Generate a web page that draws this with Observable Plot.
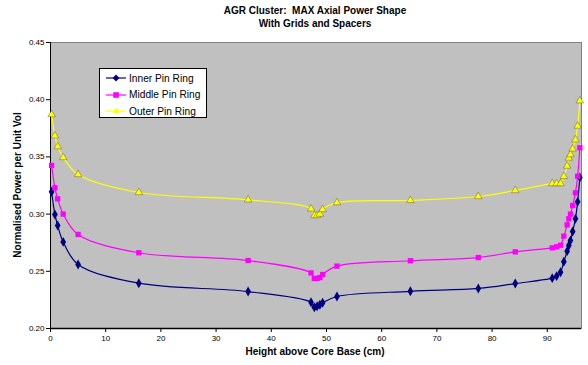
<!DOCTYPE html>
<html>
<head>
<meta charset="utf-8">
<script src="https://cdn.jsdelivr.net/npm/d3@7"></script>
<script src="https://cdn.jsdelivr.net/npm/@observablehq/plot@0.6"></script>
<style>
  html, body { margin: 0; padding: 0; background: #fff; }
  #wrap { position: relative; width: 588px; height: 365px; font-family: "Liberation Sans", Arial, sans-serif; }
  #wrap svg.plot { position: absolute; left: 0; top: 0; }
  .title { position: absolute; left: 0; width: 630px; text-align: center; font-weight: bold; font-size: 10px; color: #000; }
  .xlabel { position: absolute; top: 346px; left: 0; width: 630px; text-align: center; font-weight: bold; font-size: 10px; }
  .ylabel { position: absolute; left: 17px; top: 185px; transform: translate(-50%, -50%) rotate(-90deg); white-space: nowrap; font-weight: bold; font-size: 10px; }
  .legend { position: absolute; left: 99px; top: 68px; width: 108px; height: 50px; background: #fff; border: 1px solid #000; box-sizing: border-box; font-size: 10.2px; }
  .legend .row { position: absolute; left: 6px; height: 12px; display: flex; align-items: center; }
  .legend .row span { margin-left: 3px; }
</style>
</head>
<body>
<div id="wrap">
  <div class="title" style="top:5px">AGR Cluster:&nbsp; MAX Axial Power Shape</div>
  <div class="title" style="top:18px">With Grids and Spacers</div>
  <div class="xlabel">Height above Core Base (cm)</div>
  <div class="ylabel">Normalised Power per Unit Vol</div>
</div>
<script>
// Heights (cm) of measurement points
const heights = [0.2, 0.8, 1.3, 2.3, 5.0, 16.0, 35.8, 47.2, 47.8, 48.3, 48.8, 49.3, 51.9, 65.2, 77.5, 84.2,
  90.9, 91.7, 92.4, 93.0, 93.6, 93.9, 94.2, 94.6, 95.1, 95.5, 95.9];
const innerRing = [0.3195, 0.2997, 0.2900, 0.2757, 0.2560, 0.2396, 0.2323, 0.2230, 0.2186, 0.2195, 0.2207, 0.2225, 0.2280, 0.2325, 0.2350, 0.2393,
  0.2440, 0.2458, 0.2492, 0.2583, 0.2676, 0.2726, 0.2769, 0.2848, 0.2959, 0.3107, 0.3320];
const middleRing = [0.3425, 0.3230, 0.3134, 0.3000, 0.2822, 0.2662, 0.2594, 0.2486, 0.2437, 0.2437, 0.2445, 0.2472, 0.2545, 0.2592, 0.2620, 0.2670,
  0.2705, 0.2714, 0.2728, 0.2807, 0.2906, 0.2959, 0.3000, 0.3075, 0.3186, 0.3331, 0.3580];
const outerRing = [0.3870, 0.3685, 0.3590, 0.3495, 0.3346, 0.3189, 0.3125, 0.3046, 0.2988, 0.2988, 0.3000, 0.3040, 0.3100, 0.3120, 0.3154, 0.3206,
  0.3267, 0.3267, 0.3267, 0.3330, 0.3420, 0.3490, 0.3520, 0.3570, 0.3650, 0.3770, 0.3990];

const seriesNames = ["Inner Pin Ring", "Middle Pin Ring", "Outer Pin Ring"];
const seriesColors = ["#000080", "#FF00FF", "#FFFF00"];
const seriesSymbols = ["diamond", "square", "triangle"];
const xTicks = [0, 10, 20, 30, 40, 50, 60, 70, 80, 90];
const yTicks = [0.20, 0.25, 0.30, 0.35, 0.40, 0.45];

const allSeries = [innerRing, middleRing, outerRing];
const data = allSeries.flatMap((vals, i) => vals.map((v, j) => ({x: heights[j], y: v, s: seriesNames[i]})));

const chart = Plot.plot({
  width: 588, height: 365,
  marginLeft: 50, marginRight: 7, marginTop: 42, marginBottom: 37,
  style: {fontFamily: "'Liberation Sans', Arial, sans-serif", fontSize: "8px", background: "transparent", color: "#000"},
  x: {domain: [0, 96.2], label: null},
  y: {domain: [0.2, 0.45], label: null},
  color: {domain: seriesNames, range: seriesColors},
  symbol: {domain: seriesNames, range: seriesSymbols},
  marks: [
    Plot.frame({fill: "#C0C0C0", stroke: "#808080"}),
    Plot.axisX({ticks: xTicks, tickSize: 4, tickPadding: 3, tickFormat: d => String(d), label: null}),
    Plot.axisY({ticks: yTicks, tickSize: 4, tickPadding: 2, tickFormat: d3.format(".2f"), label: null}),
    Plot.ruleX([0], {stroke: "#000"}),
    Plot.ruleY([0.2], {stroke: "#000", strokeWidth: 1.5}),
    Plot.line(data, {x: "x", y: "y", z: "s", stroke: "s", curve: "catmull-rom", strokeWidth: 1.2}),
    Plot.dot(data.filter(d => d.s !== "Outer Pin Ring"), {x: "x", y: "y", fill: "s", symbol: "s", r: 3, stroke: "none"}),
    Plot.dot(data.filter(d => d.s === "Outer Pin Ring"), {x: "x", y: "y", fill: "s", symbol: "s", r: 2.8, stroke: "#444", strokeWidth: 0.4})
  ]
});
chart.classList.add("plot");
const wrap = document.getElementById("wrap");
wrap.insertBefore(chart, wrap.firstChild);

// Legend
const legend = document.createElement("div");
legend.className = "legend";
const symPaths = {
  diamond: "M0,-3.4L3.4,0L0,3.4L-3.4,0Z",
  square: "M-2.8,-2.8H2.8V2.8H-2.8Z",
  triangle: "M0,-3.4L3.2,2.3H-3.2Z"
};
seriesNames.forEach((name, i) => {
  const row = document.createElement("div");
  row.className = "row";
  row.style.top = (3 + i * 16.5) + "px";
  row.innerHTML = `<svg width="20" height="10" viewBox="-10 -5 20 10"><line x1="-10" x2="10" y1="0" y2="0" stroke="${seriesColors[i]}" stroke-width="1.2"/><path d="${symPaths[seriesSymbols[i]]}" fill="${seriesColors[i]}"/></svg><span>${name}</span>`;
  legend.appendChild(row);
});
wrap.appendChild(legend);
</script>
</body>
</html>
